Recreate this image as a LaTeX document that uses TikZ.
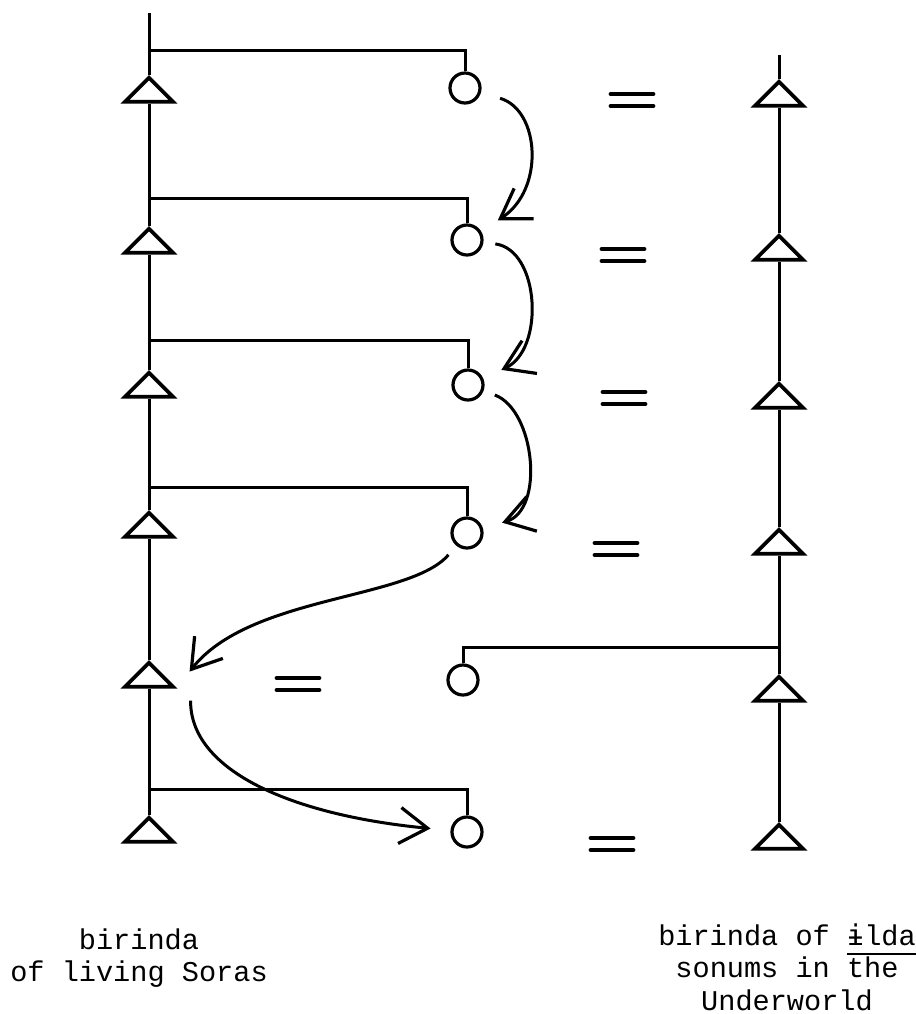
\documentclass[tikz,border=0pt]{standalone}
\usepackage{fontspec}
\setmonofont{Liberation Mono}
\newfontfamily\ipamono{DejaVu Sans Mono}
\usetikzlibrary{shapes.geometric,arrows.meta}
\newcommand\thickunder[1]{\leavevmode\vtop{\hbox{#1}\kern3.5pt\hrule height 1.4pt}}
\tikzset{
  male/.style={draw, fill=white, line width=1.9pt, isosceles triangle, shape border rotate=90,
    isosceles triangle apex angle=90, minimum width=24pt, inner sep=0pt, anchor=apex},
  female/.style={draw, circle, line width=1.6pt, minimum size=15pt, inner sep=0pt},
  kinline/.style={line width=1.5pt},
  descent/.style={line width=1.5pt, -{Straight Barb[length=14pt,width=18pt,line width=1.6pt]}},
  eqbar/.style={line width=2.4pt, line cap=round},
  wed/.pic={\draw[eqbar] (-21,-6) -- (21,-6) (-21,6) -- (21,6);},
  legend/.style={font=\ttfamily\fontsize{14.3pt}{16.4pt}\selectfont, align=center, inner sep=0pt, anchor=north}
}
\begin{document}
\begin{tikzpicture}[x=0.5pt, y=-0.5pt]
  \useasboundingbox (0,0) rectangle (916,1014);
  % living Soras
  \node[male] (l1) at (149,75) {};
  \node[male] (l2) at (149,226) {};
  \node[male] (l3) at (149,370) {};
  \node[male] (l4) at (149,510) {};
  \node[male] (l5) at (149,660) {};
  \node[male] (l6) at (149,815) {};
  \node[female] (c1) at (465,88) {};
  \node[female] (c2) at (467,240) {};
  \node[female] (c3) at (468,385) {};
  \node[female] (c4) at (467,533) {};
  \node[female] (c5) at (463,680) {};
  \node[female] (c6) at (467,832) {};
  % sonums in the Underworld
  \node[male] (r1) at (779,79) {};
  \node[male] (r2) at (779,233) {};
  \node[male] (r3) at (779,381) {};
  \node[male] (r4) at (779,527) {};
  \node[male] (r5) at (779,674) {};
  \node[male] (r6) at (779,822) {};
  \coordinate (ltop) at (149,13);
  \coordinate (rtop) at (779,55);
  \coordinate (j1) at (149,50);
  \coordinate (j2) at (149,198);
  \coordinate (j3) at (149,340);
  \coordinate (j4) at (149,487);
  \coordinate (j5) at (779,647);
  \coordinate (j6) at (149,789);

  \draw[kinline] (ltop) -- (l1.apex);
  \draw[kinline] (rtop) -- (r1.apex);
  \foreach \a/\b in {l1/l2,l2/l3,l3/l4,l4/l5,l5/l6,r1/r2,r2/r3,r3/r4,r4/r5,r5/r6}
    \draw[kinline] (\a.lower side) -- (\b.apex);
  \foreach \j/\c in {j1/c1,j2/c2,j3/c3,j4/c4,j5/c5,j6/c6}
    \draw[kinline] (\j) -| (\c);

  \draw[descent, shorten <=10pt, shorten >=10pt] (c1) .. controls (540,110) and (545,190) .. (c2);
  \draw[descent, shorten <=6pt, shorten >=10pt] (c2) .. controls (540,250) and (545,350) .. (c3);
  \draw[descent, shorten <=6pt, shorten >=10pt] (c3) .. controls (535,410) and (545,510) .. (c4);
  \draw[descent, shorten <=6pt] (c4) .. controls (410,600) and (250,595) .. ([shift={(12,-17)}]l5.right corner);
  \draw[descent, shorten >=10pt] ([shift={(13,12)}]l5.right corner) .. controls (190,770) and (290,815) .. (c6);

  \foreach \p in {(632,100),(623,255),(624,398),(616,549),(298,684),(612,844)}
    \pic at \p {wed};

  \node[legend] (living) at (139,928) {birinda\\of living Soras};
  \node[legend] (under) at (787,923) {birinda of \thickunder{{\ipamono ɨ}lda}\\sonums in the\\Underworld};
\end{tikzpicture}
\end{document}
